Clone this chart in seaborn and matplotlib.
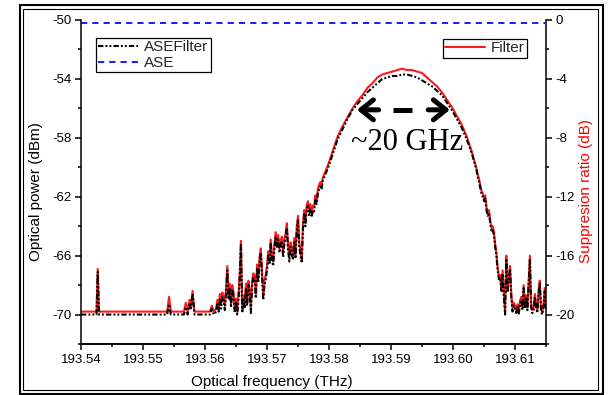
import matplotlib
matplotlib.use("Agg")
import matplotlib.pyplot as plt
from matplotlib.patches import Rectangle
from matplotlib.ticker import FixedLocator, MultipleLocator, FormatStrFormatter
import pandas as pd
import seaborn as sns

# ---- spectrum samples (optical frequency, THz) ----
freq_thz = [
    # flat floor with isolated spikes
    193.5400, 193.5425, 193.5427, 193.5429, 193.5539, 193.5542, 193.5545, 193.5566, 193.5569,
    193.5572, 193.5575, 193.5577, 193.5580, 193.5583, 193.5608, 193.5611, 193.5614, 193.5618,
    # rising noisy edge
    193.5620, 193.5622, 193.5624, 193.5626, 193.5628, 193.5630, 193.5632, 193.5634, 193.5636, 193.5638,
    193.5640, 193.5642, 193.5644, 193.5646, 193.5648, 193.5650, 193.5652, 193.5654, 193.5656, 193.5658,
    193.5660, 193.5662, 193.5664, 193.5666, 193.5668, 193.5670, 193.5672, 193.5674, 193.5676, 193.5678,
    193.5680, 193.5682, 193.5684, 193.5686, 193.5688, 193.5690, 193.5692, 193.5694, 193.5696, 193.5698,
    193.5700, 193.5702, 193.5704, 193.5706, 193.5708, 193.5710, 193.5712, 193.5714, 193.5716, 193.5718,
    193.5720, 193.5722, 193.5724, 193.5726, 193.5728, 193.5730, 193.5732, 193.5734, 193.5736, 193.5738,
    193.5740, 193.5742, 193.5744, 193.5746, 193.5748, 193.5750, 193.5752, 193.5754, 193.5756, 193.5758,
    193.5760, 193.5762, 193.5764, 193.5766, 193.5768, 193.5770, 193.5772, 193.5774, 193.5776, 193.5778,
    193.5780, 193.5782, 193.5784, 193.5786, 193.5788, 193.5790,
    # passband top
    193.5798, 193.5806, 193.5814, 193.5822, 193.5830, 193.5838, 193.5846, 193.5854, 193.5862, 193.5870,
    193.5878, 193.5886, 193.5894, 193.5902, 193.5910, 193.5918, 193.5926, 193.5934, 193.5942, 193.5950,
    193.5958, 193.5966, 193.5974, 193.5982, 193.5990, 193.5998, 193.6006, 193.6014, 193.6022, 193.6030,
    193.6038,
    # falling noisy edge
    193.6040, 193.6042, 193.6044, 193.6046, 193.6048, 193.6050, 193.6052, 193.6054, 193.6056, 193.6058,
    193.6060, 193.6062, 193.6064, 193.6066, 193.6068, 193.6070, 193.6072, 193.6074, 193.6076, 193.6078,
    193.6080, 193.6082, 193.6084, 193.6086, 193.6088, 193.6090, 193.6092, 193.6094, 193.6096, 193.6098,
    193.6100, 193.6102, 193.6104, 193.6106, 193.6108, 193.6110, 193.6112, 193.6114, 193.6116, 193.6118,
    193.6120, 193.6122, 193.6124, 193.6126, 193.6128, 193.6130, 193.6132, 193.6134, 193.6136, 193.6138,
    193.6140, 193.6142, 193.6144, 193.6146, 193.6148, 193.6150,
]

# ASE after the filter, optical power (dBm)
asefilter_dbm = [
    -70.0, -70.0, -67.1, -70.0, -70.0, -69.3, -70.0, -70.0, -69.5,
    -70.0, -69.2, -69.7, -68.6, -70.0, -70.0, -69.6, -70.0, -69.8,
    -69.2, -69.8, -68.9, -69.6, -68.8, -69.0, -69.7, -68.5, -67.0, -69.0,
    -68.2, -69.5, -68.3, -68.8, -69.9, -69.2, -70.0, -69.0, -67.5, -65.2,
    -69.9, -69.0, -69.6, -68.2, -69.4, -68.0, -68.6, -69.9, -68.0, -67.5,
    -67.7, -68.9, -66.9, -67.8, -66.4, -65.8, -67.4, -69.0, -68.0, -67.6,
    -67.0, -66.0, -66.6, -65.2, -66.3, -66.7, -65.5, -64.7, -65.4, -64.9,
    -65.8, -65.3, -65.0, -66.1, -65.2, -64.8, -64.1, -65.6, -66.4, -65.4,
    -65.9, -66.3, -65.1, -66.2, -64.3, -63.6, -65.4, -66.0, -66.5, -64.2,
    -63.2, -64.0, -62.9, -62.6, -63.3, -62.8, -63.4, -62.9, -63.0, -62.2,
    -62.5, -61.8, -61.5, -61.3, -61.5, -60.9,
    -60.1, -59.1, -58.1, -57.4, -56.7, -56.1, -55.7, -55.3, -54.9, -54.6,
    -54.3, -54.0, -53.9, -53.8, -53.8, -53.7, -53.7, -53.8, -53.9, -54.1,
    -54.3, -54.5, -54.8, -55.1, -55.6, -56.1, -56.7, -57.3, -58.1, -59.0,
    -60.2,
    -60.7, -61.0, -61.4, -61.8, -62.0, -62.3, -62.1, -62.9, -63.3, -63.1,
    -63.8, -64.3, -64.2, -64.6, -65.4, -66.0, -67.0, -67.6, -67.5, -68.4,
    -67.2, -68.8, -70.0, -66.2, -68.5, -67.6, -66.9, -68.8, -69.8, -69.4,
    -69.6, -69.9, -69.5, -70.0, -69.3, -69.0, -69.7, -68.2, -69.6, -68.9,
    -69.7, -68.0, -66.3, -69.5, -69.9, -69.7, -68.8, -69.5, -69.9, -68.6,
    -67.9, -69.8, -70.0, -69.5, -68.4, -69.7,
]

# filter response, suppression ratio (dB)
filter_db = [
    -19.8, -19.8, -16.9, -19.8, -19.8, -18.8, -19.8, -19.8, -19.2,
    -19.8, -19.0, -19.5, -18.4, -19.8, -19.8, -19.4, -19.8, -19.6,
    -19.0, -19.5, -18.6, -19.3, -18.5, -18.8, -19.4, -18.2, -16.7, -18.8,
    -17.9, -19.2, -18.0, -18.5, -19.6, -18.9, -19.7, -18.7, -17.2, -15.0,
    -19.6, -18.7, -19.3, -17.9, -19.1, -17.7, -18.3, -19.6, -17.7, -17.2,
    -17.4, -18.6, -16.6, -17.5, -16.1, -15.5, -17.1, -18.7, -17.7, -17.3,
    -16.7, -15.7, -16.3, -14.9, -16.0, -16.4, -15.2, -14.4, -15.1, -14.6,
    -15.5, -15.0, -14.7, -15.8, -14.9, -14.5, -13.8, -15.3, -16.1, -15.1,
    -15.6, -16.0, -14.8, -15.9, -14.0, -13.3, -15.1, -15.7, -16.2, -13.9,
    -12.9, -13.7, -12.6, -12.3, -13.0, -12.5, -13.1, -12.6, -12.7, -11.9,
    -12.2, -11.5, -11.2, -11.0, -11.2, -10.7,
    -9.9, -8.9, -7.9, -7.2, -6.6, -6.0, -5.5, -5.1, -4.6, -4.3,
    -3.9, -3.7, -3.6, -3.5, -3.4, -3.3, -3.4, -3.4, -3.5, -3.6,
    -3.9, -4.2, -4.5, -4.9, -5.4, -5.9, -6.5, -7.1, -7.9, -8.9,
    -10.1,
    -10.5, -10.8, -11.2, -11.6, -11.8, -12.1, -11.9, -12.7, -13.1, -12.9,
    -13.6, -14.1, -14.0, -14.4, -15.2, -15.8, -16.8, -17.4, -17.3, -18.2,
    -17.0, -18.6, -19.7, -16.0, -18.3, -17.4, -16.7, -18.6, -19.5, -19.2,
    -19.4, -19.7, -19.3, -19.8, -19.1, -18.8, -19.5, -18.0, -19.4, -18.7,
    -19.5, -17.8, -16.0, -19.3, -19.7, -19.5, -18.6, -19.3, -19.7, -18.4,
    -17.7, -19.6, -19.8, -19.3, -18.2, -19.5,
]

# unfiltered ASE level (dBm)
ase_freq_thz = [193.5400, 193.6150]
ase_dbm = [-50.2, -50.2]

x_ticks = [193.54, 193.55, 193.56, 193.57, 193.58, 193.59, 193.60, 193.61]
left_ticks = [-70, -66, -62, -58, -54, -50]
right_ticks = [-20, -16, -12, -8, -4, 0]

assert len(freq_thz) == len(asefilter_dbm) == len(filter_db)

spectra = pd.DataFrame({"freq": freq_thz, "asefilter": asefilter_dbm, "filter": filter_db})
ase = pd.DataFrame({"freq": ase_freq_thz, "ase": ase_dbm})

sns.set_theme(style="ticks")
plt.rcParams["font.family"] = ["Liberation Sans", "DejaVu Sans"]
plt.rcParams["axes.unicode_minus"] = False

fig = plt.figure(figsize=(6.1, 3.95), dpi=100)
fig.patch.set_facecolor("white")
ax = fig.add_axes([81 / 610, 1 - 344 / 395, 465 / 610, 324 / 395])
ax2 = ax.twinx()

# filter trace on the right axis, drawn underneath the ASE traces
sns.lineplot(data=spectra, x="freq", y="filter", ax=ax2, color="#ff1a1a", lw=1.5,
             estimator=None, sort=False, legend=False, label="Filter")
sns.lineplot(data=spectra, x="freq", y="asefilter", ax=ax, color="black", lw=1.5,
             estimator=None, sort=False, legend=False, label="ASEFilter")
ax.lines[-1].set_linestyle((0, (2.6, 1.0, 0.9, 1.0, 0.9, 1.0)))
sns.lineplot(data=ase, x="freq", y="ase", ax=ax, color="#1a1aff", lw=1.4,
             estimator=None, sort=False, legend=False, label="ASE")
ax.lines[-1].set_linestyle((0, (3.2, 2.6)))

ax.set_zorder(ax2.get_zorder() + 1)
ax.patch.set_visible(False)

ax.set_xlim(193.54, 193.615)
ax.set_ylim(-72, -50)
ax2.set_ylim(-22, 0)

ax.xaxis.set_major_locator(FixedLocator(x_ticks))
ax.xaxis.set_minor_locator(MultipleLocator(0.005))
ax.xaxis.set_major_formatter(FormatStrFormatter("%.2f"))
ax.yaxis.set_major_locator(FixedLocator(left_ticks))
ax.yaxis.set_minor_locator(FixedLocator([t - 2 for t in left_ticks]))
ax2.yaxis.set_major_locator(FixedLocator(right_ticks))
ax2.yaxis.set_minor_locator(FixedLocator([t - 2 for t in right_ticks]))

for a in (ax, ax2):
    a.spines["top"].set_visible(False)
    for s in a.spines.values():
        s.set_linewidth(1.1)
        s.set_color("black")
    a.tick_params(which="major", direction="out", length=4.5, width=1.1,
                  labelsize=9.5, colors="black", pad=2)
    a.tick_params(which="minor", direction="out", length=2.5, width=1.1, colors="black")
ax.spines["right"].set_visible(False)
ax2.spines["left"].set_visible(False)
ax.tick_params(axis="x", pad=3)

ax.set_xlabel("Optical frequency (THz)", fontsize=11, color="black")
ax.set_ylabel("Optical power (dBm)", fontsize=11, color="black")
ax2.set_ylabel("Suppresion ratio (dB)", fontsize=11, color="#ff0000")
ax.xaxis.set_label_coords(0.41, -0.095)
ax.yaxis.set_label_coords(-0.082, 0.472)
ax2.yaxis.set_label_coords(1.072, 0.472)

# legends
h1, l1 = ax.get_legend_handles_labels()
leg1 = ax.legend(h1, l1, loc="upper left", bbox_to_anchor=(0.032, 0.944), fontsize=11,
                 frameon=True, fancybox=False, edgecolor="black", framealpha=1,
                 borderpad=0.15, labelspacing=0.1, handlelength=2.6, handletextpad=0.4,
                 borderaxespad=0)
leg1.get_frame().set_linewidth(0.9)
h2, l2 = ax2.get_legend_handles_labels()
leg2 = ax2.legend(h2, l2, loc="upper right", bbox_to_anchor=(0.959, 0.941), fontsize=11,
                  frameon=True, fancybox=False, edgecolor="black", framealpha=1,
                  borderpad=0.15, handlelength=2.6, handletextpad=0.4, borderaxespad=0)
leg2.get_frame().set_linewidth(0.9)

# bandwidth marker: dashed double arrow with label
arrow_y = -56.1
head = dict(arrowstyle="->,head_length=0.45,head_width=0.36", lw=3.6, color="black",
            mutation_scale=20, shrinkA=0, shrinkB=0)
ax.annotate("", xy=(193.5845, arrow_y), xytext=(193.5880, arrow_y), arrowprops=head)
ax.annotate("", xy=(193.5995, arrow_y), xytext=(193.5960, arrow_y), arrowprops=head)
ax.plot([193.5903, 193.5934], [arrow_y, arrow_y], color="black", lw=3.6,
        solid_capstyle="butt")
ax.text(193.5926, -58.8, "~20 GHz", fontsize=22, ha="center", va="baseline",
        family=["Liberation Serif", "DejaVu Serif"], color="black")

# double border around the whole figure
fig.add_artist(Rectangle((0.0328, 0.0025), 0.9557, 0.9848, transform=fig.transFigure,
                         fill=False, lw=1.5, edgecolor="black"))
fig.add_artist(Rectangle((0.0385, 0.0114), 0.9426, 0.9646, transform=fig.transFigure,
                         fill=False, lw=0.8, edgecolor="black"))

fig.savefig("out.png", dpi=100, facecolor="white")
